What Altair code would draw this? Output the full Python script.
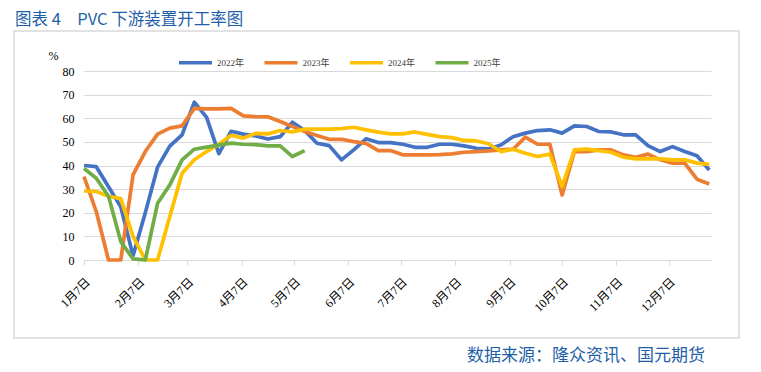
import altair as alt
import pandas as pd

# ---- data (weekly readings, x = days since 1月7日) ----
week_days = [i * 7 for i in range(52)]

y2022 = [40, 39.5, 31, 22.5, 1.8, 20, 39.3, 48.2, 53, 66.8, 60.4, 45, 54.5, 53.3, 52.5, 51.2, 52.2, 58.3, 54.8, 49.4,
         48.4, 42.4, 46.6, 51.3, 49.7, 49.7, 49.0, 47.7, 47.7, 49.0, 49.0, 48.3, 47.3, 47.0, 48.7, 52.2, 53.7, 54.8,
         55.1, 53.7, 56.8, 56.5, 54.4, 54.2, 53.0, 53.0, 48.4, 45.9, 48.0, 45.9, 44.1, 38.1]
y2023 = [35.3, 20.5, 0, 0, 36, 45.9, 53.3, 55.8, 56.8, 64.2, 64, 64, 64.2, 61, 60.7, 60.6, 58.6, 56.5, 54.4, 52.7,
         51.1, 51.1, 50.1, 49.4, 46.3, 46.3, 44.5, 44.5, 44.5, 44.6, 44.9, 45.6, 45.9, 46.2, 46.6, 46.9, 52.0, 49.0,
         49.0, 27.5, 45.9, 45.9, 46.6, 46.6, 44.5, 43.5, 44.8, 42.4, 41.0, 41.0, 34.2, 32.2]
y2024 = [29.2, 29, 27, 26, 10, 0, 0, 18.4, 36.7, 42.4, 45.9, 49, 52.8, 51.6, 53.6, 53.4, 54.8, 54.2, 55.4, 55.4,
         55.4, 55.6, 56.2, 55.1, 54.1, 53.4, 53.4, 54.2, 53.2, 52.2, 51.8, 50.6, 50.4, 49.2, 45.9, 46.9, 45.2, 43.8,
         44.8, 31.1, 46.6, 46.9, 46.3, 45.6, 43.5, 42.8, 42.8, 42.8, 42.4, 42.4, 41.0, 40.5]
y2025 = [38.8, 34.6, 27, 7.8, 0.5, 0, 24, 31.8, 42.4, 46.9, 47.8, 48.6, 49.5, 49.0, 48.8, 48.3, 48.3, 43.8, 46.3]

series_names = ["2022年", "2023年", "2024年", "2025年"]
series_colors = ["#4472C4", "#ED7D31", "#FFC000", "#70AD47"]

tick_days = [0, 31, 59, 90, 120, 151, 181, 212, 243, 273, 304, 334]
tick_labels = ["1月7日", "2月7日", "3月7日", "4月7日", "5月7日", "6月7日",
               "7月7日", "8月7日", "9月7日", "10月7日", "11月7日", "12月7日"]

rows = []
for name, vals in zip(series_names, [y2022, y2023, y2024, y2025]):
    for d, v in zip(week_days, vals):
        rows.append({"day": d, "value": v, "year": name})
df = pd.DataFrame(rows)

label_expr = ("[" + ",".join("'%s'" % t for t in tick_labels) + "][indexof(["
              + ",".join(str(t) for t in tick_days) + "], datum.value)]")

SERIF = "Liberation Serif, Noto Sans CJK SC"
SANS = "Noto Sans CJK SC"

lines = alt.Chart(df).mark_line(strokeWidth=3.7, strokeJoin="round").encode(
    x=alt.X("day:Q", scale=alt.Scale(domain=[0, 358], nice=False, zero=False),
            axis=alt.Axis(values=tick_days, labelExpr=label_expr, labelAngle=-45, grid=False,
                          domainColor="#d9d9d9", tickColor="#d9d9d9", tickSize=5,
                          labelFont=SERIF, labelFontSize=12, labelColor="#000000",
                          labelPadding=11, title=None)),
    y=alt.Y("value:Q", scale=alt.Scale(domain=[0, 80], nice=False),
            axis=alt.Axis(values=list(range(0, 81, 10)), grid=True, gridColor="#d9d9d9",
                          domain=False, ticks=False, labelFont=SERIF, labelFontSize=12,
                          labelColor="#000000", labelPadding=10,
                          title="%", titleAngle=0, titleX=-31, titleY=-16,
                          titleAlign="center", titleBaseline="middle",
                          titleFont=SERIF, titleFontSize=12, titleFontWeight="normal")),
    color=alt.Color("year:N", scale=alt.Scale(domain=series_names, range=series_colors),
                    legend=alt.Legend(orient="none", legendX=93, legendY=-27, direction="horizontal",
                                      title=None, symbolType="stroke", symbolSize=1089,
                                      symbolStrokeWidth=3.5, labelFont=SERIF, labelFontSize=9,
                                      labelColor="#404040",
                                      labelOffset=3, columnPadding=12.5, padding=0)),
    order=alt.Order("day:Q"),
)

one = pd.DataFrame({"k": [0]})
frame = alt.Chart(one).mark_rect(fill=None, stroke="#d9d9d9", strokeWidth=1.5).encode(
    x=alt.value(-70), x2=alt.value(655), y=alt.value(-40), y2=alt.value(267))

title = alt.Chart(one).mark_text(align="left", baseline="alphabetic", font=SANS, fontSize=16.5,
                                 color="#1f5fa8").encode(
    x=alt.value(-69), y=alt.value(-46), text=alt.value("图表 4\u2003PVC 下游装置开工率图"))

footer = alt.Chart(one).mark_text(align="right", baseline="middle", font=SANS, fontSize=17,
                                  color="#1f5fa8").encode(
    x=alt.value(621), y=alt.value(285), text=alt.value("数据来源：隆众资讯、国元期货"))

chart = alt.layer(frame, lines, title, footer).properties(
    width=627, height=189,
    autosize=alt.AutoSizeParams(type="none"),
    padding={"left": 76, "top": 63, "right": 40, "bottom": 110},
).configure_view(stroke=None)

chart.save("out.html", embed_options={"renderer": "svg", "actions": False})
